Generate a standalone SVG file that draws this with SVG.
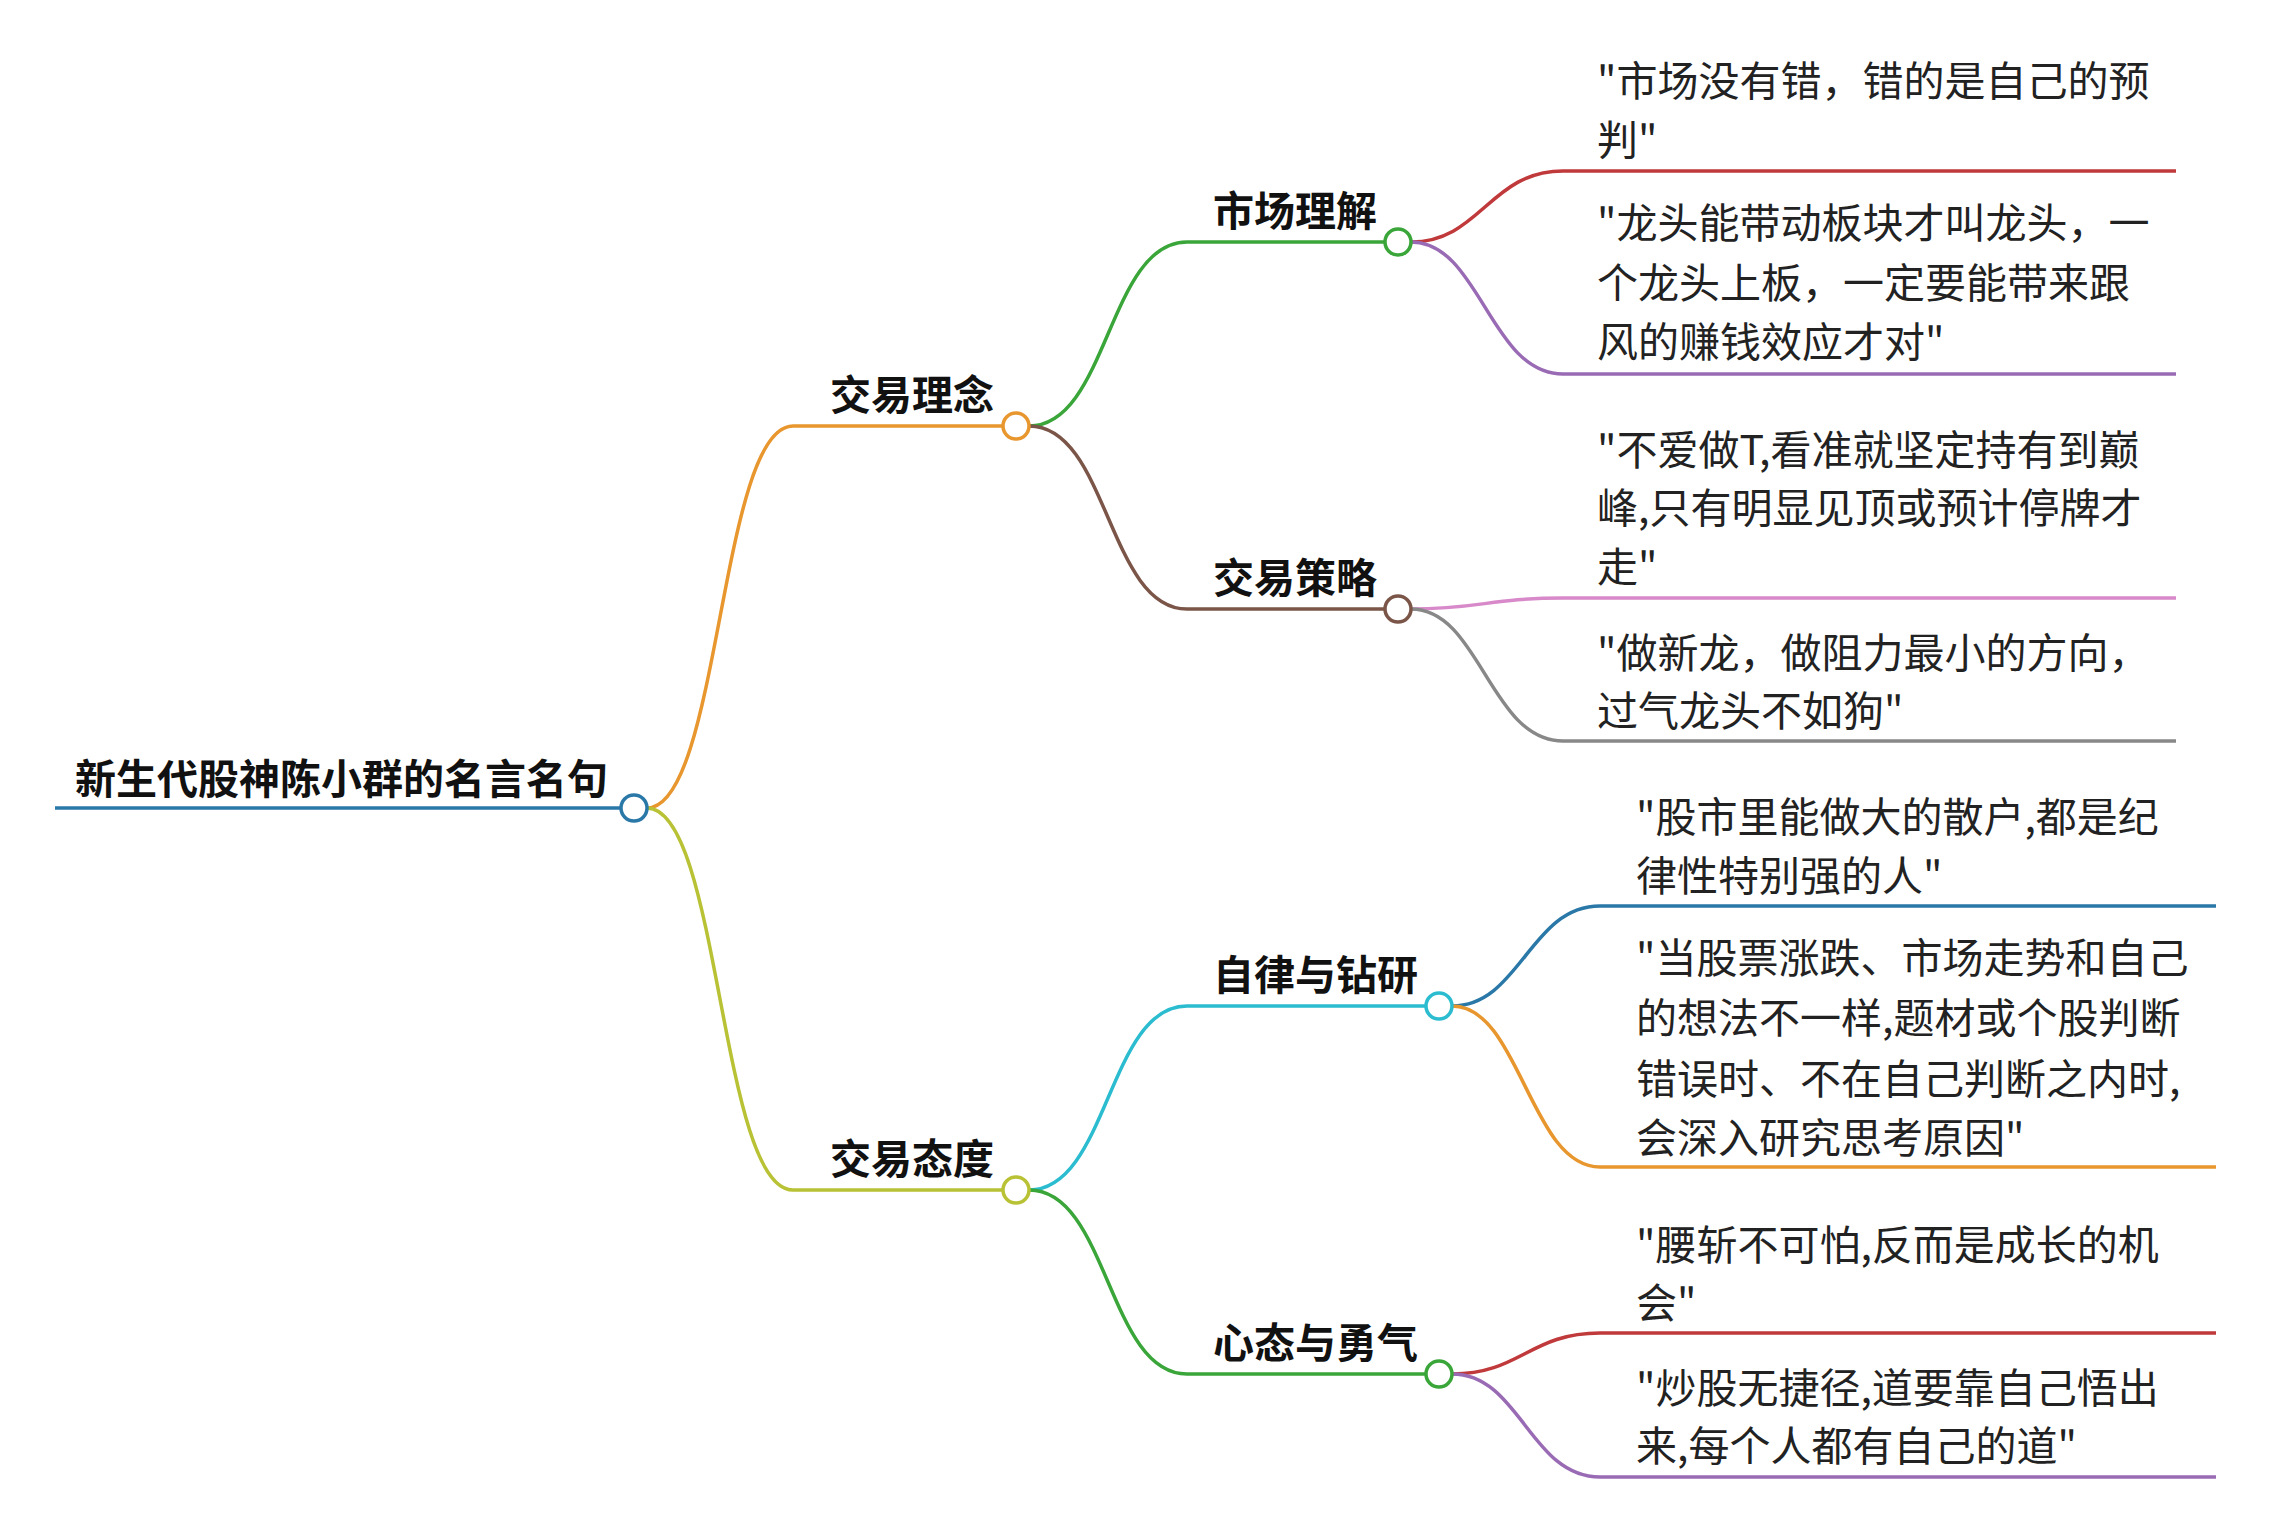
<svg xmlns="http://www.w3.org/2000/svg" width="2270" height="1539" viewBox="0 0 2270 1539">
<style>
.t{font-family:"Noto Sans CJK SC","Liberation Sans",sans-serif;font-size:41px;fill:#222}
.b{font-weight:bold;fill:#111}
path,line{fill:none;stroke-width:3.5}
circle{fill:#fff;stroke-width:3.5}
</style>
<rect width="2270" height="1539" fill="#fff"/>
<g id="connectors">
<path d="M647 808 C720 808 720 426 793 426 L1003 426" stroke="#e8962e"/>
<path d="M647 808 C720 808 720 1190 793 1190 L1003 1190" stroke="#b8c234"/>
<path d="M1029 426 C1108 426 1108 242 1187 242 L1385 242" stroke="#3aa63a"/>
<path d="M1029 426 C1108 426 1108 609 1187 609 L1385 609" stroke="#7a5548"/>
<path d="M1029 1190 C1108 1190 1108 1006 1187 1006 L1426 1006" stroke="#2bbcd0"/>
<path d="M1029 1190 C1108 1190 1108 1374 1187 1374 L1426 1374" stroke="#3aa63a"/>
<path d="M1411 242 C1480 242 1490 171 1563 171 L2176 171" stroke="#c0393b"/>
<path d="M1411 242 C1480 242 1490 374 1563 374 L2176 374" stroke="#9a6bb5"/>
<path d="M1411 609 C1480 609 1490 598 1563 598 L2176 598" stroke="#d889c9"/>
<path d="M1411 609 C1480 609 1490 741 1563 741 L2176 741" stroke="#888"/>
<path d="M1452 1006 C1520 1006 1530 906 1600 906 L2216 906" stroke="#2a78a8"/>
<path d="M1452 1006 C1520 1006 1530 1167 1600 1167 L2216 1167" stroke="#e8962e"/>
<path d="M1452 1374 C1520 1374 1530 1333 1600 1333 L2216 1333" stroke="#c0393b"/>
<path d="M1452 1374 C1520 1374 1530 1477 1600 1477 L2216 1477" stroke="#9a6bb5"/>
</g>
<g id="root"><line x1="55" y1="808" x2="621" y2="808" stroke="#2a78a8"/><circle cx="634" cy="808" r="13" stroke="#2a78a8"/><text class="t b" x="75" y="794">新生代股神陈小群的名言名句</text></g>
<g id="n1"><circle cx="1016" cy="426" r="13" stroke="#e8962e"/><text class="t b" x="830" y="410">交易理念</text></g>
<g id="n2"><circle cx="1016" cy="1190" r="13" stroke="#b8c234"/><text class="t b" x="830" y="1174">交易态度</text></g>
<g id="n11"><circle cx="1398" cy="242" r="13" stroke="#3aa63a"/><text class="t b" x="1213" y="226">市场理解</text></g>
<g id="n12"><circle cx="1398" cy="609" r="13" stroke="#7a5548"/><text class="t b" x="1213" y="593">交易策略</text></g>
<g id="n21"><circle cx="1439" cy="1006" r="13" stroke="#2bbcd0"/><text class="t b" x="1213" y="990">自律与钻研</text></g>
<g id="n22"><circle cx="1439" cy="1374" r="13" stroke="#3aa63a"/><text class="t b" x="1213" y="1358">心态与勇气</text></g>
<g id="l1"><text class="t" x="1597" y="96">"市场没有错，错的是自己的预</text><text class="t" x="1597" y="155">判"</text></g>
<g id="l2"><text class="t" x="1597" y="238">"龙头能带动板块才叫龙头，一</text><text class="t" x="1597" y="298">个龙头上板，一定要能带来跟</text><text class="t" x="1597" y="357">风的赚钱效应才对"</text></g>
<g id="l3"><text class="t" x="1597" y="465">"不爱做T,看准就坚定持有到巅</text><text class="t" x="1597" y="523">峰,只有明显见顶或预计停牌才</text><text class="t" x="1597" y="582">走"</text></g>
<g id="l4"><text class="t" x="1597" y="668">"做新龙，做阻力最小的方向，</text><text class="t" x="1597" y="726">过气龙头不如狗"</text></g>
<g id="l5"><text class="t" x="1636" y="832">"股市里能做大的散户,都是纪</text><text class="t" x="1636" y="891">律性特别强的人"</text></g>
<g id="l6"><text class="t" x="1636" y="973">"当股票涨跌、市场走势和自己</text><text class="t" x="1636" y="1033">的想法不一样,题材或个股判断</text><text class="t" x="1636" y="1094">错误时、不在自己判断之内时,</text><text class="t" x="1636" y="1153">会深入研究思考原因"</text></g>
<g id="l7"><text class="t" x="1636" y="1260">"腰斩不可怕,反而是成长的机</text><text class="t" x="1636" y="1318">会"</text></g>
<g id="l8"><text class="t" x="1636" y="1403">"炒股无捷径,道要靠自己悟出</text><text class="t" x="1636" y="1461">来,每个人都有自己的道"</text></g>
</svg>
